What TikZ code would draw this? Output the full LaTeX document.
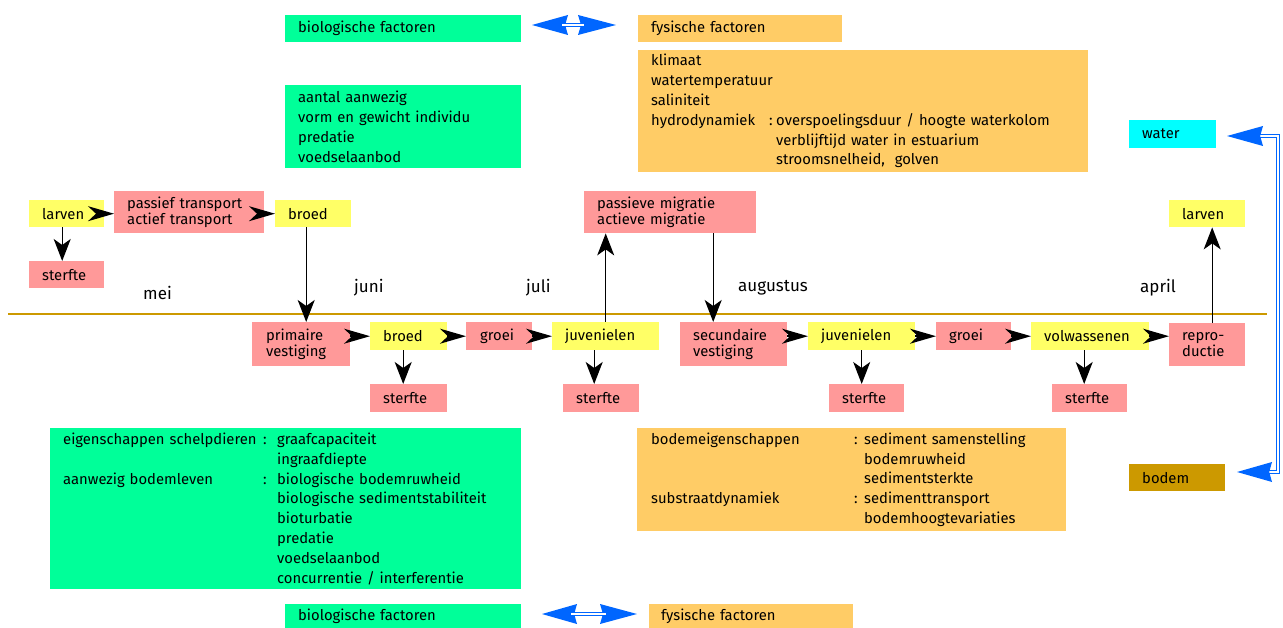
\documentclass[tikz,border=0pt]{standalone}
\usepackage{fontspec}
\setmainfont{Fira Sans}
\usetikzlibrary{arrows.meta}
\definecolor{cgreen}{RGB}{0,255,153}
\definecolor{corange}{RGB}{255,204,102}
\definecolor{cyellow}{RGB}{255,255,102}
\definecolor{cpink}{RGB}{255,153,153}
\definecolor{ccyan}{RGB}{0,255,255}
\definecolor{cgold}{RGB}{204,153,0}
\definecolor{cblue}{RGB}{0,102,255}
\newcommand\mybox[9][]{\node[bx,fill=#7,text width=\the\numexpr#5-2*#9\relax pt,inner xsep=#9pt,minimum height=#6pt,#1] (#2) at (#3,#4) {#8};}
\newcommand\bluehead[3]{\fill[cblue] (#1,#3) -- (#2,#3-10) -- ({#2-0.08*(#2-#1)},#3) -- (#2,#3+10) -- cycle;}
\begin{document}
\begin{tikzpicture}[x=1pt,y=-1pt,
  bx/.style={anchor=north west,inner ysep=0pt,align=left,font=\fontsize{14.8}{16.5}\selectfont},
  info/.style={font=\fontsize{14.8}{19.8}\selectfont},
  month/.style={anchor=west,inner sep=0pt,font=\fontsize{17}{20}\selectfont},
  harr/.style={line width=1.4pt,-{Stealth[length=26pt,width=15pt,inset=8pt]}},
  varr/.style={line width=1.4pt,-{Stealth[length=22pt,width=17pt,inset=6pt]}},
  dbl/.style={cblue,line width=1.4pt,double=white,double distance=2pt,line join=miter}]
\useasboundingbox (0,0) rectangle (1283,628);
% timeline
\coordinate (tlA) at (8,314);
\coordinate (tlB) at (1267,314);
\draw[cgold,line width=2pt] (tlA) -- (tlB);
% months
\node[month] (mei) at (143,293) {mei};
\node[month] (juni) at (354,288) {juni};
\node[month] (juli) at (526,288) {juli};
\node[month] (aug) at (738,288) {augustus};
\node[month] (apr) at (1140,288) {april};
% factor boxes
\mybox{biotop}{285}{15}{236}{27}{cgreen}{biologische factoren}{13}
\mybox{fystop}{638}{15}{204}{27}{corange}{fysische factoren}{13}
\mybox{biobot}{285}{604}{236}{24}{cgreen}{biologische factoren}{13}
\mybox{fysbot}{649}{604}{204}{24}{corange}{fysische factoren}{12}
\mybox[info]{bioinfo}{285}{85}{236}{83}{cgreen}{aantal aanwezig\\vorm en gewicht individu\\predatie\\voedselaanbod}{13}
\mybox[info]{fysinfo}{638}{50}{450}{122}{corange}{klimaat\\watertemperatuur\\saliniteit\\\makebox[118pt][l]{hydrodynamiek}\makebox[7pt][l]{:}overspoelingsduur / hoogte waterkolom\\\hspace*{125pt}verblijftijd water in estuarium\\\hspace*{125pt}stroomsnelheid,\ \ golven}{13}
\mybox[info]{bioinfob}{50}{428}{471}{161}{cgreen}{\makebox[200pt][l]{eigenschappen schelpdieren}\makebox[14pt][l]{:}graafcapaciteit\\\hspace*{214pt}ingraafdiepte\\\makebox[200pt][l]{aanwezig bodemleven}\makebox[14pt][l]{:}biologische bodemruwheid\\\hspace*{214pt}biologische sedimentstabiliteit\\\hspace*{214pt}bioturbatie\\\hspace*{214pt}predatie\\\hspace*{214pt}voedselaanbod\\\hspace*{214pt}concurrentie / interferentie}{13}
\mybox[info]{fysinfob}{637}{428}{429}{103}{corange}{\makebox[203pt][l]{bodemeigenschappen}\makebox[10pt][l]{:}sediment samenstelling\\\hspace*{213pt}bodemruwheid\\\hspace*{213pt}sedimentsterkte\\\makebox[203pt][l]{substraatdynamiek}\makebox[10pt][l]{:}sedimenttransport\\\hspace*{213pt}bodemhoogtevariaties}{14}
\mybox{water}{1129}{120}{87}{28}{ccyan}{water}{13}
\mybox{bodem}{1129}{464}{96}{27}{cgold}{bodem}{13}
% life cycle boxes
\mybox{larven1}{29}{200}{75}{27}{cyellow}{larven}{13}
\mybox{passief}{114}{191}{150}{42}{cpink}{passief transport\\actief transport}{13}
\mybox{broed1}{275}{200}{76}{27}{cyellow}{broed}{13}
\mybox{sterfte1}{29}{261}{75}{27}{cpink}{sterfte}{13}
\mybox{passieve}{584}{191}{172}{42}{cpink}{passieve migratie\\actieve migratie}{13}
\mybox{larven2}{1169}{200}{76}{27}{cyellow}{larven}{13}
\mybox{primaire}{252}{322}{98}{44}{cpink}{primaire\\vestiging}{14}
\mybox{broed2}{370}{322}{77}{28}{cyellow}{broed}{13}
\mybox{groei1}{466}{322}{66}{28}{cpink}{groei}{14}
\mybox{juv1}{552}{322}{107}{28}{cyellow}{juvenielen}{13}
\mybox{secundaire}{680}{322}{107}{44}{cpink}{secundaire\\vestiging}{13}
\mybox{juv2}{808}{322}{107}{28}{cyellow}{juvenielen}{13}
\mybox{groei2}{936}{322}{75}{28}{cpink}{groei}{13}
\mybox{volw}{1031}{322}{118}{28}{cyellow}{volwassenen}{13}
\mybox{repro}{1169}{323}{76}{43}{cpink}{repro-\\ductie}{13}
\mybox{sterfte2}{370}{384}{77}{28}{cpink}{sterfte}{13}
\mybox{sterfte3}{563}{384}{76}{28}{cpink}{sterfte}{13}
\mybox{sterfte4}{829}{384}{75}{28}{cpink}{sterfte}{13}
\mybox{sterfte5}{1052}{384}{75}{28}{cpink}{sterfte}{13}
% horizontal arrows
\draw[harr] (larven1.east) -- (larven1.east -| passief.west);
\draw[harr] (passief.east |- broed1.west) -- (broed1.west);
\draw[harr] (primaire.east |- broed2.west) -- (broed2.west);
\draw[harr] (broed2.east) -- (groei1.west);
\draw[harr] (groei1.east) -- (juv1.west);
\draw[harr] (secundaire.east |- juv2.west) -- (juv2.west);
\draw[harr] (juv2.east) -- (groei2.west);
\draw[harr] (groei2.east) -- (volw.west);
\draw[harr] (volw.east) -- (volw.east -| repro.west);
% vertical arrows
\draw[varr] ([xshift=-4.5pt]larven1.south) -- ([xshift=-4.5pt]larven1.south |- sterfte1.north);
\draw[varr] ([xshift=-7pt]broed1.south) -- ([xshift=-7pt]broed1.south |- primaire.north);
\draw[varr] ([xshift=-5.5pt]broed2.south) -- ([xshift=-5.5pt]broed2.south |- sterfte2.north);
\draw[varr] ([xshift=-11.5pt]juv1.south) -- ([xshift=-11.5pt]juv1.south |- sterfte3.north);
\draw[varr] (juv1.north) -- (juv1.north |- passieve.south);
\draw[varr] ([xshift=-20.5pt]secundaire.north |- passieve.south) -- ([xshift=-20.5pt]secundaire.north);
\draw[varr] (juv2.south) -- (juv2.south |- sterfte4.north);
\draw[varr] ([xshift=-5.5pt]sterfte5.north |- volw.south) -- ([xshift=-5.5pt]sterfte5.north);
\draw[varr] ([xshift=5pt]repro.north) -- ([xshift=5pt]repro.north |- larven2.south);
% blue double arrows top
\coordinate (tL) at (532,25); \coordinate (tLb) at (568,25);
\coordinate (tRb) at (578,25); \coordinate (tR) at (616,25);
\bluehead{532}{568}{25}
\bluehead{616}{578}{25}
\draw[dbl] ([xshift=-6pt]tLb) -- ([xshift=6pt]tRb);
% blue double arrows bottom
\coordinate (bL) at (542,614); \coordinate (bLb) at (577,614);
\coordinate (bRb) at (600,614); \coordinate (bR) at (637,614);
\bluehead{542}{577}{614}
\bluehead{637}{600}{614}
\draw[dbl] ([xshift=-6pt]bLb) -- ([xshift=6pt]bRb);
% right bracket
\coordinate (wTip) at (1227,136); \coordinate (wBase) at (1263,136);
\coordinate (bTip) at (1237,472); \coordinate (bBase) at (1272,472);
\coordinate (cTop) at (1278,136); \coordinate (cBot) at (1278,472);
\draw[dbl] ([xshift=-6pt]wBase) -- (cTop) -- (cBot) -- ([xshift=-6pt]bBase);
\bluehead{1227}{1263}{136}
\bluehead{1237}{1272}{472}
\end{tikzpicture}
\end{document}
